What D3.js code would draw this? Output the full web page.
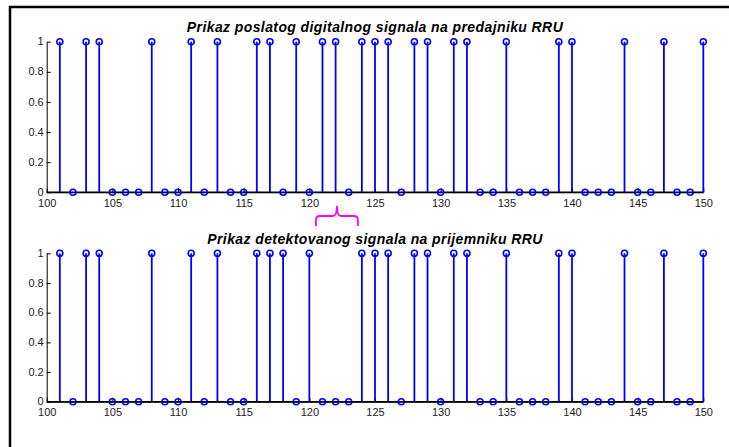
<!DOCTYPE html>
<html>
<head>
<meta charset="utf-8">
<script src="https://cdn.jsdelivr.net/npm/d3@7"></script>
<style>
  body { margin: 0; background: #fff; }
  svg { display: block; font-family: Helvetica, Arial, "Liberation Sans", sans-serif; }
</style>
</head>
<body>
<div id="chart"></div>
<script>
// sample index n (x axis)
const samples = [101,102,103,104,105,106,107,108,109,110,
                 111,112,113,114,115,116,117,118,119,120,
                 121,122,123,124,125,126,127,128,129,130,
                 131,132,133,134,135,136,137,138,139,140,
                 141,142,143,144,145,146,147,148,149,150];
// sent bits (transmitter)
const sentBits = [1,0,1,1,0,0,0,1,0,0,
                  1,0,1,0,0,1,1,0,1,0,
                  1,1,0,1,1,1,0,1,1,0,
                  1,1,0,0,1,0,0,0,1,1,
                  0,0,0,1,0,0,1,0,0,1];
// detected bits (receiver)
const detectedBits = [1,0,1,1,0,0,0,1,0,0,
                      1,0,1,0,0,1,1,1,0,1,
                      0,0,0,1,1,1,0,1,1,0,
                      1,1,0,0,1,0,0,0,1,1,
                      0,0,0,1,0,0,1,0,0,1];
const xDomain = [100, 150];
const xTicks = [100,105,110,115,120,125,130,135,140,145,150];
const yTicks = [0,0.2,0.4,0.6,0.8,1];
const titles = ['Prikaz poslatog digitalnog signala na predajniku RRU',
                'Prikaz detektovanog signala na prijemniku RRU'];
// brace marks the bits that differ (in sample units)
const braceRange = [120.5, 123.7];

const W = 729, H = 447;
const BLUE = '#0000ff';

const svg = d3.select('#chart').append('svg').attr('width', W).attr('height', H);

// figure frame (only top and left edges visible in the crop)
svg.append('path').attr('d', 'M10,' + H + 'V7H' + W)
  .attr('fill', 'none').attr('stroke', '#000').attr('stroke-width', 2.5);

const x = d3.scaleLinear().domain(xDomain).range([46.7, 703.3]);

const panels = [
  { vals: sentBits,     title: titles[0], y0: 192.3, y1: 41.7,  titleY: 31.5 },
  { vals: detectedBits, title: titles[1], y0: 401.7, y1: 253.3, titleY: 243.5 }
];

panels.forEach(p => {
  const y = d3.scaleLinear().domain([0, 1]).range([p.y0, p.y1]);
  const g = svg.append('g');

  // axes (MATLAB-like, ticks inward, box off)
  const ax = g.append('g').attr('transform', 'translate(0,' + p.y0 + ')')
    .call(d3.axisBottom(x).tickValues(xTicks).tickSize(-4).tickPadding(7).tickSizeOuter(0));
  const ay = g.append('g').attr('transform', 'translate(' + x(xDomain[0]) + ',0)')
    .call(d3.axisLeft(y).tickValues(yTicks).tickSize(-4).tickPadding(3).tickSizeOuter(0)
      .tickFormat(d3.format('~g')));
  [ax, ay].forEach(a => {
    a.selectAll('text').attr('font-size', 11).attr('fill', '#222')
      .attr('font-family', 'Helvetica, Arial, "Liberation Sans", sans-serif');
    a.selectAll('line').attr('stroke', '#000');
    a.select('.domain').attr('stroke', '#000');
  });
  ay.selectAll('text').attr('dy', '0.28em');

  // stems
  g.append('g').selectAll('line').data(samples.map((n, i) => [n, p.vals[i]]).filter(d => d[1] !== 0))
    .join('line')
      .attr('x1', d => x(d[0])).attr('x2', d => x(d[0]))
      .attr('y1', y(0)).attr('y2', d => y(d[1]))
      .attr('stroke', BLUE).attr('stroke-width', 1.8);

  // baseline
  g.append('line').attr('x1', x(xDomain[0])).attr('x2', x(xDomain[1]))
    .attr('y1', y(0)).attr('y2', y(0)).attr('stroke', '#000').attr('stroke-width', 1.6);

  // markers
  g.append('g').selectAll('circle').data(samples.map((n, i) => [n, p.vals[i]]))
    .join('circle')
      .attr('cx', d => x(d[0])).attr('cy', d => y(d[1])).attr('r', 3)
      .attr('fill', 'none').attr('stroke', BLUE).attr('stroke-width', 1.6);

  // title
  svg.append('text').attr('x', (x.range()[0] + x.range()[1]) / 2).attr('y', p.titleY)
    .attr('text-anchor', 'middle').attr('font-size', 14).attr('font-weight', 'bold')
    .attr('letter-spacing', 0.4)
    .attr('font-style', 'italic').attr('fill', '#000').text(p.title);
});

// magenta brace under the top panel
const bx0 = x(braceRange[0]), bx1 = x(braceRange[1]), bm = (bx0 + bx1) / 2;
const bTop = 206, bMid = 216, bBot = 226, r = 4;
svg.append('path')
  .attr('d', 'M' + bx0 + ',' + bBot + ' V' + (bMid + r) + ' Q' + bx0 + ',' + bMid + ' ' + (bx0 + r) + ',' + bMid +
             ' H' + (bm - r) + ' Q' + bm + ',' + bMid + ' ' + bm + ',' + bTop +
             ' Q' + bm + ',' + bMid + ' ' + (bm + r) + ',' + bMid +
             ' H' + (bx1 - r) + ' Q' + bx1 + ',' + bMid + ' ' + bx1 + ',' + (bMid + r) + ' V' + bBot)
  .attr('fill', 'none').attr('stroke', '#ff00ff').attr('stroke-width', 1.8);
</script>
</body>
</html>
